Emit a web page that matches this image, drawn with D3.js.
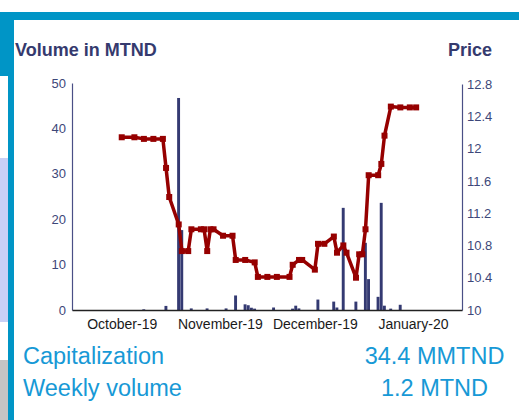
<!DOCTYPE html>
<html>
<head>
<meta charset="utf-8">
<script src="https://cdn.jsdelivr.net/npm/d3@7"></script>
<style>
  body { margin: 0; background: #fff; }
  svg { display: block; font-family: "Liberation Sans", Arial, sans-serif; }
</style>
</head>
<body>
<div id="chart"></div>
<script>
// price line (date, price)
const priceDates = ["2019-10-01","2019-10-05","2019-10-08","2019-10-11","2019-10-14","2019-10-15","2019-10-16",
  "2019-10-19","2019-10-20","2019-10-22","2019-10-23","2019-10-26","2019-10-27","2019-10-28","2019-10-29","2019-10-30",
  "2019-11-02","2019-11-05","2019-11-06","2019-11-09","2019-11-12","2019-11-13","2019-11-16","2019-11-19","2019-11-23",
  "2019-11-24","2019-11-26","2019-11-27","2019-12-01","2019-12-02","2019-12-04","2019-12-07","2019-12-08","2019-12-10",
  "2019-12-11","2019-12-14","2019-12-15","2019-12-16","2019-12-17","2019-12-18","2019-12-21","2019-12-22","2019-12-23",
  "2019-12-25","2019-12-28","2019-12-31","2020-01-02"];
const priceValues = [12.14,12.14,12.12,12.12,12.12,11.76,11.40,
  11.06,10.73,10.73,11.00,11.00,11.00,10.73,11.00,11.00,
  10.92,10.92,10.62,10.62,10.59,10.41,10.41,10.41,10.41,
  10.56,10.62,10.62,10.50,10.82,10.82,10.91,10.71,10.80,
  10.71,10.40,10.69,10.69,11.00,11.67,11.67,11.81,12.16,
  12.52,12.51,12.51,12.51];

// daily volume bars (date, MTND)
const volumeDates = ["2019-10-08","2019-10-15","2019-10-19","2019-10-20","2019-10-23","2019-10-28","2019-11-03",
  "2019-11-06","2019-11-09","2019-11-10","2019-11-11","2019-11-12","2019-11-18","2019-11-24","2019-11-25","2019-11-26",
  "2019-12-02","2019-12-07","2019-12-08","2019-12-10","2019-12-14","2019-12-17","2019-12-18","2019-12-21","2019-12-22",
  "2019-12-23","2019-12-25","2019-12-28"];
const volumeValues = [0.15,0.9,46.7,17.6,0.35,0.35,0.35,
  3.2,1.25,1.05,0.5,0.3,0.55,0.3,0.95,0.35,
  2.3,1.85,0.55,22.5,1.85,14.8,6.8,2.9,23.6,
  0.95,0.3,1.15];

const volumeTicks = [0, 10, 20, 30, 40, 50];
const priceTicks = [10, 10.4, 10.8, 11.2, 11.6, 12, 12.4, 12.8];

const summaryLabels = ["Capitalization", "Weekly volume"];
const summaryValues = ["34.4 MMTND", "1.2 MTND"];

const parse = d3.timeParse("%Y-%m-%d");
const prices = priceDates.map((d, i) => ({ date: parse(d), value: priceValues[i] }));
const volumes = volumeDates.map((d, i) => ({ date: parse(d), value: volumeValues[i] }));

const width = 519, height = 420;
const plot = { left: 72, right: 462, top: 83, bottom: 310 };

const svg = d3.select("#chart").append("svg")
  .attr("width", width)
  .attr("height", height);

// frame decoration
const teal = "#0095c6";
svg.append("rect").attr("x", 0).attr("y", 12).attr("width", width).attr("height", 8).attr("fill", teal);
svg.append("rect").attr("x", 0).attr("y", 12).attr("width", 14).attr("height", 64).attr("fill", teal);
svg.append("rect").attr("x", 8).attr("y", 12).attr("width", 6).attr("height", height - 12).attr("fill", teal);
svg.append("rect").attr("x", 0).attr("y", 158).attr("width", 8).attr("height", 164).attr("fill", "#c8d0f6");
svg.append("rect").attr("x", 0).attr("y", 360).attr("width", 8).attr("height", 60).attr("fill", "#c4c4c4");

// scales
const x = d3.scaleTime()
  .domain([new Date(2019, 8, 15, 7), new Date(2020, 0, 16, 11, 30)])
  .range([plot.left, plot.right]);
const yVol = d3.scaleLinear().domain([0, 50]).range([plot.bottom, plot.top]);
const yPrice = d3.scaleLinear().domain([10, 12.8]).range([plot.bottom, plot.top + 1]);

// titles
svg.append("text").attr("x", 15).attr("y", 56)
  .attr("font-size", 18).attr("font-weight", "bold").attr("fill", "#353a6e")
  .text("Volume in MTND");
svg.append("text").attr("x", 492).attr("y", 56).attr("text-anchor", "end")
  .attr("font-size", 18).attr("font-weight", "bold").attr("fill", "#353a6e")
  .text("Price");

// bars
const dayW = x(d3.timeDay.offset(volumes[0].date, 1)) - x(volumes[0].date);
svg.append("g").selectAll("rect")
  .data(volumes)
  .enter()
  .append("rect")
  .attr("x", d => x(d.date) - dayW / 2)
  .attr("width", dayW * 0.92)
  .attr("y", d => yVol(d.value))
  .attr("height", d => yVol(0) - yVol(d.value))
  .attr("fill", "#343a72");

// left axis
const gl = svg.append("g")
  .attr("transform", `translate(${plot.left},0)`)
  .call(d3.axisLeft(yVol).tickValues(volumeTicks).tickSize(0).tickPadding(6));
gl.select(".domain").attr("stroke", "#4a4f86").attr("stroke-width", 1.2);
gl.selectAll("text").attr("font-size", 13).attr("fill", "#3d4779").attr("font-family", "Liberation Sans, Arial, sans-serif");

// right axis
const gr = svg.append("g")
  .attr("transform", `translate(${plot.right},0)`)
  .call(d3.axisRight(yPrice).tickValues(priceTicks).tickFormat(d => String(d)).tickSize(0).tickPadding(5));
gr.select(".domain").attr("stroke", "#4a4f86").attr("stroke-width", 1.2);
gr.selectAll("text").attr("font-size", 13).attr("fill", "#3d4779").attr("font-family", "Liberation Sans, Arial, sans-serif");

// bottom axis
const gb = svg.append("g")
  .attr("transform", `translate(0,${plot.bottom})`)
  .call(d3.axisBottom(x).ticks(d3.timeMonth.every(1)).tickFormat(d3.timeFormat("%B-%y")).tickSize(0).tickPadding(9));
gb.select(".domain").attr("stroke", "#222").attr("stroke-width", 1.6);
gb.selectAll("text").attr("font-size", 14).attr("fill", "#1a1a1a").attr("font-family", "Liberation Sans, Arial, sans-serif");

// price line
const line = d3.line()
  .x(d => x(d.date))
  .y(d => yPrice(d.value));
svg.append("path")
  .datum(prices)
  .attr("fill", "none")
  .attr("stroke", "#960000")
  .attr("stroke-width", 3.5)
  .attr("stroke-linejoin", "round")
  .attr("d", line);

// square markers
svg.append("g").selectAll("rect")
  .data(prices)
  .enter()
  .append("rect")
  .attr("x", d => x(d.date) - 3)
  .attr("y", d => yPrice(d.value) - 3)
  .attr("width", 6)
  .attr("height", 6)
  .attr("fill", "#960000");

// summary lines
summaryLabels.forEach((label, i) => {
  svg.append("text").attr("x", 23).attr("y", 364 + i * 32)
    .attr("font-size", 23.5).attr("fill", "#1799d6").text(label);
  svg.append("text").attr("x", 434.5).attr("y", 364 + i * 32).attr("text-anchor", "middle")
    .attr("font-size", 23.5).attr("fill", "#1799d6").text(summaryValues[i]);
});
</script>
</body>
</html>
